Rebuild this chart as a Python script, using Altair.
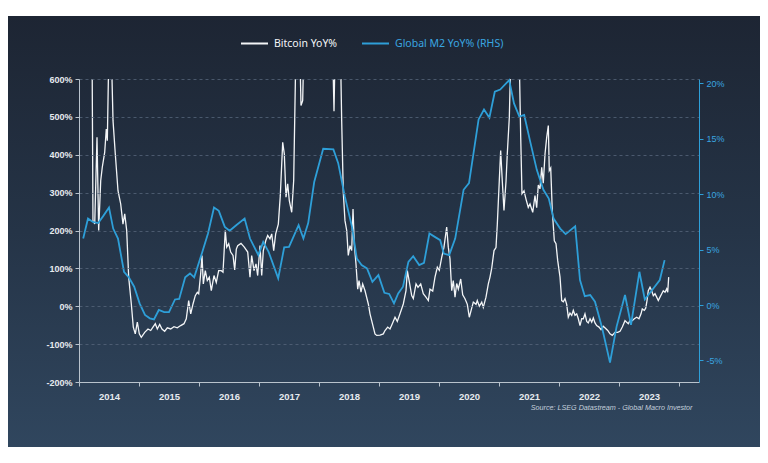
import altair as alt
import pandas as pd

# ---------------- data ----------------
btc_t = [2014.000, 2014.100, 2014.200, 2014.233, 2014.262, 2014.300, 2014.328, 2014.362, 2014.388, 2014.428,
         2014.455, 2014.472, 2014.495, 2014.517, 2014.538, 2014.567, 2014.605, 2014.650, 2014.695, 2014.733,
         2014.762, 2014.795, 2014.828, 2014.872, 2014.905, 2014.938, 2014.972, 2015.005, 2015.038, 2015.095,
         2015.150, 2015.195, 2015.233, 2015.272, 2015.305, 2015.345, 2015.383, 2015.428, 2015.472, 2015.528,
         2015.583, 2015.638, 2015.695, 2015.750, 2015.788, 2015.828, 2015.862, 2015.900, 2015.938, 2015.972,
         2015.995, 2016.028, 2016.050, 2016.072, 2016.105, 2016.138, 2016.172, 2016.205, 2016.250, 2016.288,
         2016.328, 2016.372, 2016.400, 2016.438, 2016.462, 2016.495, 2016.528, 2016.567, 2016.595, 2016.622,
         2016.645, 2016.700, 2016.755, 2016.812, 2016.850, 2016.878, 2016.917, 2016.950, 2016.978, 2017.017,
         2017.045, 2017.072, 2017.112, 2017.145, 2017.183, 2017.212, 2017.245, 2017.278, 2017.322, 2017.355,
         2017.395, 2017.422, 2017.450, 2017.478, 2017.505, 2017.545, 2017.578, 2017.612, 2017.650, 2017.700,
         2017.728, 2017.750, 2017.850, 2018.017, 2018.183, 2018.250, 2018.283, 2018.333, 2018.378, 2018.405,
         2018.433, 2018.462, 2018.488, 2018.517, 2018.545, 2018.567, 2018.588, 2018.617, 2018.645, 2018.667,
         2018.700, 2018.728, 2018.767, 2018.822, 2018.850, 2018.878, 2018.905, 2018.933, 2018.962, 2019.017,
         2019.072, 2019.100, 2019.145, 2019.183, 2019.222, 2019.267, 2019.305, 2019.350, 2019.405, 2019.450,
         2019.472, 2019.505, 2019.545, 2019.572, 2019.617, 2019.650, 2019.695, 2019.738, 2019.783, 2019.822,
         2019.850, 2019.895, 2019.933, 2019.972, 2020.005, 2020.045, 2020.083, 2020.128, 2020.155, 2020.183,
         2020.212, 2020.238, 2020.267, 2020.295, 2020.322, 2020.362, 2020.395, 2020.433, 2020.472, 2020.505,
         2020.545, 2020.572, 2020.617, 2020.638, 2020.672, 2020.712, 2020.738, 2020.783, 2020.822, 2020.850,
         2020.878, 2020.917, 2020.950, 2020.972, 2021.005, 2021.028, 2021.055, 2021.083, 2021.117, 2021.138,
         2021.172, 2021.195, 2021.267, 2021.338, 2021.362, 2021.383, 2021.417, 2021.450, 2021.488, 2021.517,
         2021.562, 2021.600, 2021.628, 2021.655, 2021.683, 2021.712, 2021.738, 2021.767, 2021.795, 2021.822,
         2021.838, 2021.862, 2021.888, 2021.922, 2021.950, 2021.978, 2022.017, 2022.045, 2022.072, 2022.100,
         2022.128, 2022.155, 2022.183, 2022.212, 2022.238, 2022.267, 2022.295, 2022.322, 2022.350, 2022.378,
         2022.405, 2022.433, 2022.462, 2022.488, 2022.517, 2022.545, 2022.572, 2022.600, 2022.628, 2022.667,
         2022.700, 2022.738, 2022.778, 2022.812, 2022.850, 2022.888, 2022.933, 2022.978, 2023.017, 2023.055,
         2023.100, 2023.128, 2023.155, 2023.183, 2023.222, 2023.255, 2023.295, 2023.333, 2023.367, 2023.388,
         2023.422, 2023.445, 2023.467, 2023.488, 2023.517, 2023.545, 2023.572, 2023.600, 2023.628, 2023.655,
         2023.683, 2023.712, 2023.738, 2023.767, 2023.795, 2023.812, 2023.828]
btc_v = [5000, 2500, 1200, 226, 217, 446, 200, 332, 367, 406,
         468, 437, 650, 750, 680, 490, 402, 305, 270, 217,
         244, 200, 77, 6, -55, -73, -42, -73, -82, -69,
         -60, -64, -55, -46, -60, -48, -60, -66, -57, -60,
         -54, -57, -51, -46, -33, 15, -20, 6, 28, 37,
         33, 86, 134, 59, 94, 68, 77, 41, 81, 63,
         94, 94, 90, 200, 156, 165, 143, 134, 96, 151,
         160, 166, 156, 143, 77, 134, 94, 112, 81, 160,
         81, 147, 173, 187, 178, 191, 147, 191, 217, 292,
         433, 402, 288, 323, 279, 248, 332, 650, 900, 530,
         543, 700, 1200, 1500, 1000, 515, 800, 900, 490, 300,
         226, 200, 134, 160, 147, 257, 165, 110, 45, 68,
         37, 59, 41, 6, -20, -38, -55, -73, -77, -76,
         -73, -64, -55, -60, -46, -29, -40, -20, 6, 41,
         94, 65, 28, 20, 59, 50, 59, 33, 24, 15,
         45, 40, 77, 103, 95, 129, 156, 209, 156, 125,
         41, 68, 24, 60, 45, 72, 30, 20, 5, -29,
         -5, 11, 5, 15, 0, 11, -3, 24, 59, 77,
         100, 147, 155, 217, 332, 411, 330, 253, 330, 402,
         499, 650, 900, 650, 446, 297, 305, 283, 261, 270,
         248, 292, 260, 320, 310, 367, 325, 402, 446, 477,
         358, 365, 253, 173, 165, 121, 77, 15, 12, 20,
         5, -29, -18, -24, -11, -24, -20, -33, -51, -33,
         -33, -20, -40, -44, -33, -42, -31, -44, -51, -55,
         -62, -53, -59, -64, -73, -77, -69, -69, -66, -55,
         -38, -42, -46, -38, -38, -33, -29, -33, -20, -7,
         -11, -5, 15, 41, 50, 41, 28, 33, 24, 15,
         24, 33, 41, 37, 46, 37, 77]

m2_t = [2014.07, 2014.15, 2014.23, 2014.32, 2014.40, 2014.50, 2014.57, 2014.65, 2014.75, 2014.83,
        2014.92, 2015.01, 2015.10, 2015.18, 2015.25, 2015.33, 2015.42, 2015.50, 2015.60, 2015.67,
        2015.77, 2015.85, 2015.92, 2016.05, 2016.15, 2016.25, 2016.33, 2016.43, 2016.51, 2016.62,
        2016.76, 2016.85, 2016.99, 2017.07, 2017.16, 2017.32, 2017.42, 2017.50, 2017.66, 2017.74,
        2017.82, 2017.92, 2018.07, 2018.24, 2018.32, 2018.43, 2018.55, 2018.63, 2018.71, 2018.80,
        2018.89, 2018.99, 2019.09, 2019.17, 2019.25, 2019.32, 2019.40, 2019.49, 2019.57, 2019.67,
        2019.75, 2019.84, 2019.93, 2020.02, 2020.08, 2020.17, 2020.27, 2020.41, 2020.50, 2020.66,
        2020.75, 2020.84, 2020.93, 2021.02, 2021.17, 2021.25, 2021.34, 2021.42, 2021.52, 2021.63,
        2021.74, 2021.83, 2021.91, 2022.02, 2022.11, 2022.27, 2022.35, 2022.43, 2022.52, 2022.60,
        2022.72, 2022.85, 2022.96, 2023.10, 2023.20, 2023.34, 2023.43, 2023.53, 2023.68, 2023.76]
m2_v = [6.0, 7.8, 7.5, 7.4, 8.0, 8.8, 6.9, 6.0, 3.0, 2.5,
        1.65, 0.15, -0.9, -1.2, -1.3, -0.45, -0.65, -0.65, 0.5, 0.55,
        2.5, 2.85, 2.5, 4.7, 6.45, 8.8, 8.5, 7.05, 6.7, 7.2,
        7.8, 6.0, 4.5, 5.7, 4.8, 2.4, 5.2, 5.25, 7.2, 6.0,
        7.4, 11.1, 14.1, 14.05, 12.8, 9.8, 7.05, 4.2, 3.6, 3.3,
        2.1, 2.7, 1.1, 1.0, 0.15, 1.05, 1.65, 3.9, 4.4, 3.6,
        3.8, 6.45, 6.15, 5.85, 4.65, 4.5, 6.0, 10.4, 11.0, 16.75,
        17.65, 16.9, 19.25, 19.45, 20.3, 18.2, 17.0, 17.15, 14.75, 12.2,
        10.4, 9.6, 7.8, 6.9, 6.4, 7.1, 2.25, 0.8, 0.9, 0.3,
        -2.1, -5.2, -1.95, 0.9, -1.8, 3.0, 0.5, 1.2, 2.25, 4.05]

series_names = ["Bitcoin YoY%", "Global M2 YoY% (RHS)"]
series_colors = ["#f3f5f7", "#2e9fd8"]
left_ticks = [-200, -100, 0, 100, 200, 300, 400, 500, 600]
right_ticks = [-5, 0, 5, 10, 15, 20]
year_ticks = list(range(2014, 2025))
source_note = "Source: LSEG Datastream - Global Macro Investor"

btc = pd.DataFrame({"t": btc_t, "v": btc_v, "series": series_names[0]})
m2 = pd.DataFrame({"t": m2_t, "v": m2_v, "series": series_names[1]})

W, H = 620, 303
FONT = "Liberation Sans"
GRID = "#56657a"
AXIS_GREY = "#b9c3cd"
BLUE_TXT = "#3aa6e0"

xscale = alt.Scale(domain=[2014, 2014 + 31 / 3], nice=False, zero=False)
xaxis = alt.Axis(
    values=year_ticks, labelExpr="datum.value < 2024 ? '' + datum.value : ''",
    labelOffset=30, labelPadding=5, labelFlush=False, labelOverlap=False, labelBound=False,
    labelColor="#e6eaee", labelFont=FONT, labelFontSize=9.5,
    labelFontWeight="bold", tickSize=4, tickColor=AXIS_GREY, domainColor=AXIS_GREY, grid=False,
    title=source_note, titleFont=FONT, titleFontSize=7.2, titleFontStyle="italic", titleFontWeight="normal",
    titleColor="#c3cfdb", titleX=613, titleY=25, titleAlign="right", titleBaseline="middle",
    titleAnchor="end", zindex=1,
)

label_fill = "datum.value == '" + series_names[0] + "' ? '#f4f6f8' : '" + BLUE_TXT + "'"

color = alt.Color(
    "series:N",
    scale=alt.Scale(domain=series_names, range=series_colors),
    legend=alt.Legend(
        orient="none", legendX=161, legendY=-50, direction="horizontal", title=None,
        symbolType="stroke", symbolSize=729, symbolStrokeWidth=2, labelFont="Noto Sans",
        labelFontSize=10.5, labelOffset=5, columnPadding=20, zindex=1,
        labelColor=alt.ExprRef(expr=label_fill),
    ),
)

bg = alt.Chart(pd.DataFrame({"k": [0]})).mark_rect(
    fill=alt.LinearGradient(
        gradient="linear", x1=0, x2=0, y1=0, y2=1,
        stops=[alt.GradientStop(color="#1d2533", offset=0),
               alt.GradientStop(color="#253447", offset=0.5),
               alt.GradientStop(color="#30465e", offset=1)],
    ),
    strokeWidth=0,
).encode(x=alt.value(-90), x2=alt.value(720), y=alt.value(-63), y2=alt.value(368))

btc_line = alt.Chart(btc).mark_line(strokeWidth=1.3, clip=True).encode(
    x=alt.X("t:Q", scale=xscale, axis=xaxis),
    y=alt.Y("v:Q", scale=alt.Scale(domain=[-200, 600], nice=False),
            axis=alt.Axis(orient="left", values=left_ticks, labelExpr="datum.value + '%'",
                          labelColor="#e6eaee", labelFont=FONT, labelFontSize=9, labelFontWeight="bold",
                          labelPadding=3, tickSize=4, tickColor=AXIS_GREY, domainColor=AXIS_GREY,
                          grid=True, gridColor=GRID, gridDash=[3, 3], gridWidth=0.8, title=None, zindex=1)),
    color=color,
    order="t:Q",
)

m2_line = alt.Chart(m2).mark_line(strokeWidth=1.8).encode(
    x=alt.X("t:Q", scale=xscale, axis=xaxis),
    y=alt.Y("v:Q", scale=alt.Scale(domain=[-6.95, 20.4], nice=False, zero=False),
            axis=alt.Axis(orient="right", values=right_ticks, labelExpr="datum.value + '%'",
                          labelColor=BLUE_TXT, labelFont=FONT, labelFontSize=9, labelPadding=3,
                          tickSize=4, tickColor="#2e9fd8", domainColor="#2e9fd8", grid=False,
                          title=None, zindex=1)),
    color=color,
    order="t:Q",
)

chart = alt.layer(bg, btc_line, m2_line).resolve_scale(y="independent").properties(
    width=W, height=H,
    autosize=alt.AutoSizeParams(type="none"),
    padding={"left": 71, "top": 71, "right": 61, "bottom": 73},
    background="white",
).configure_view(strokeWidth=0)

chart.save("out.html", embed_options={"renderer": "svg", "actions": False})
